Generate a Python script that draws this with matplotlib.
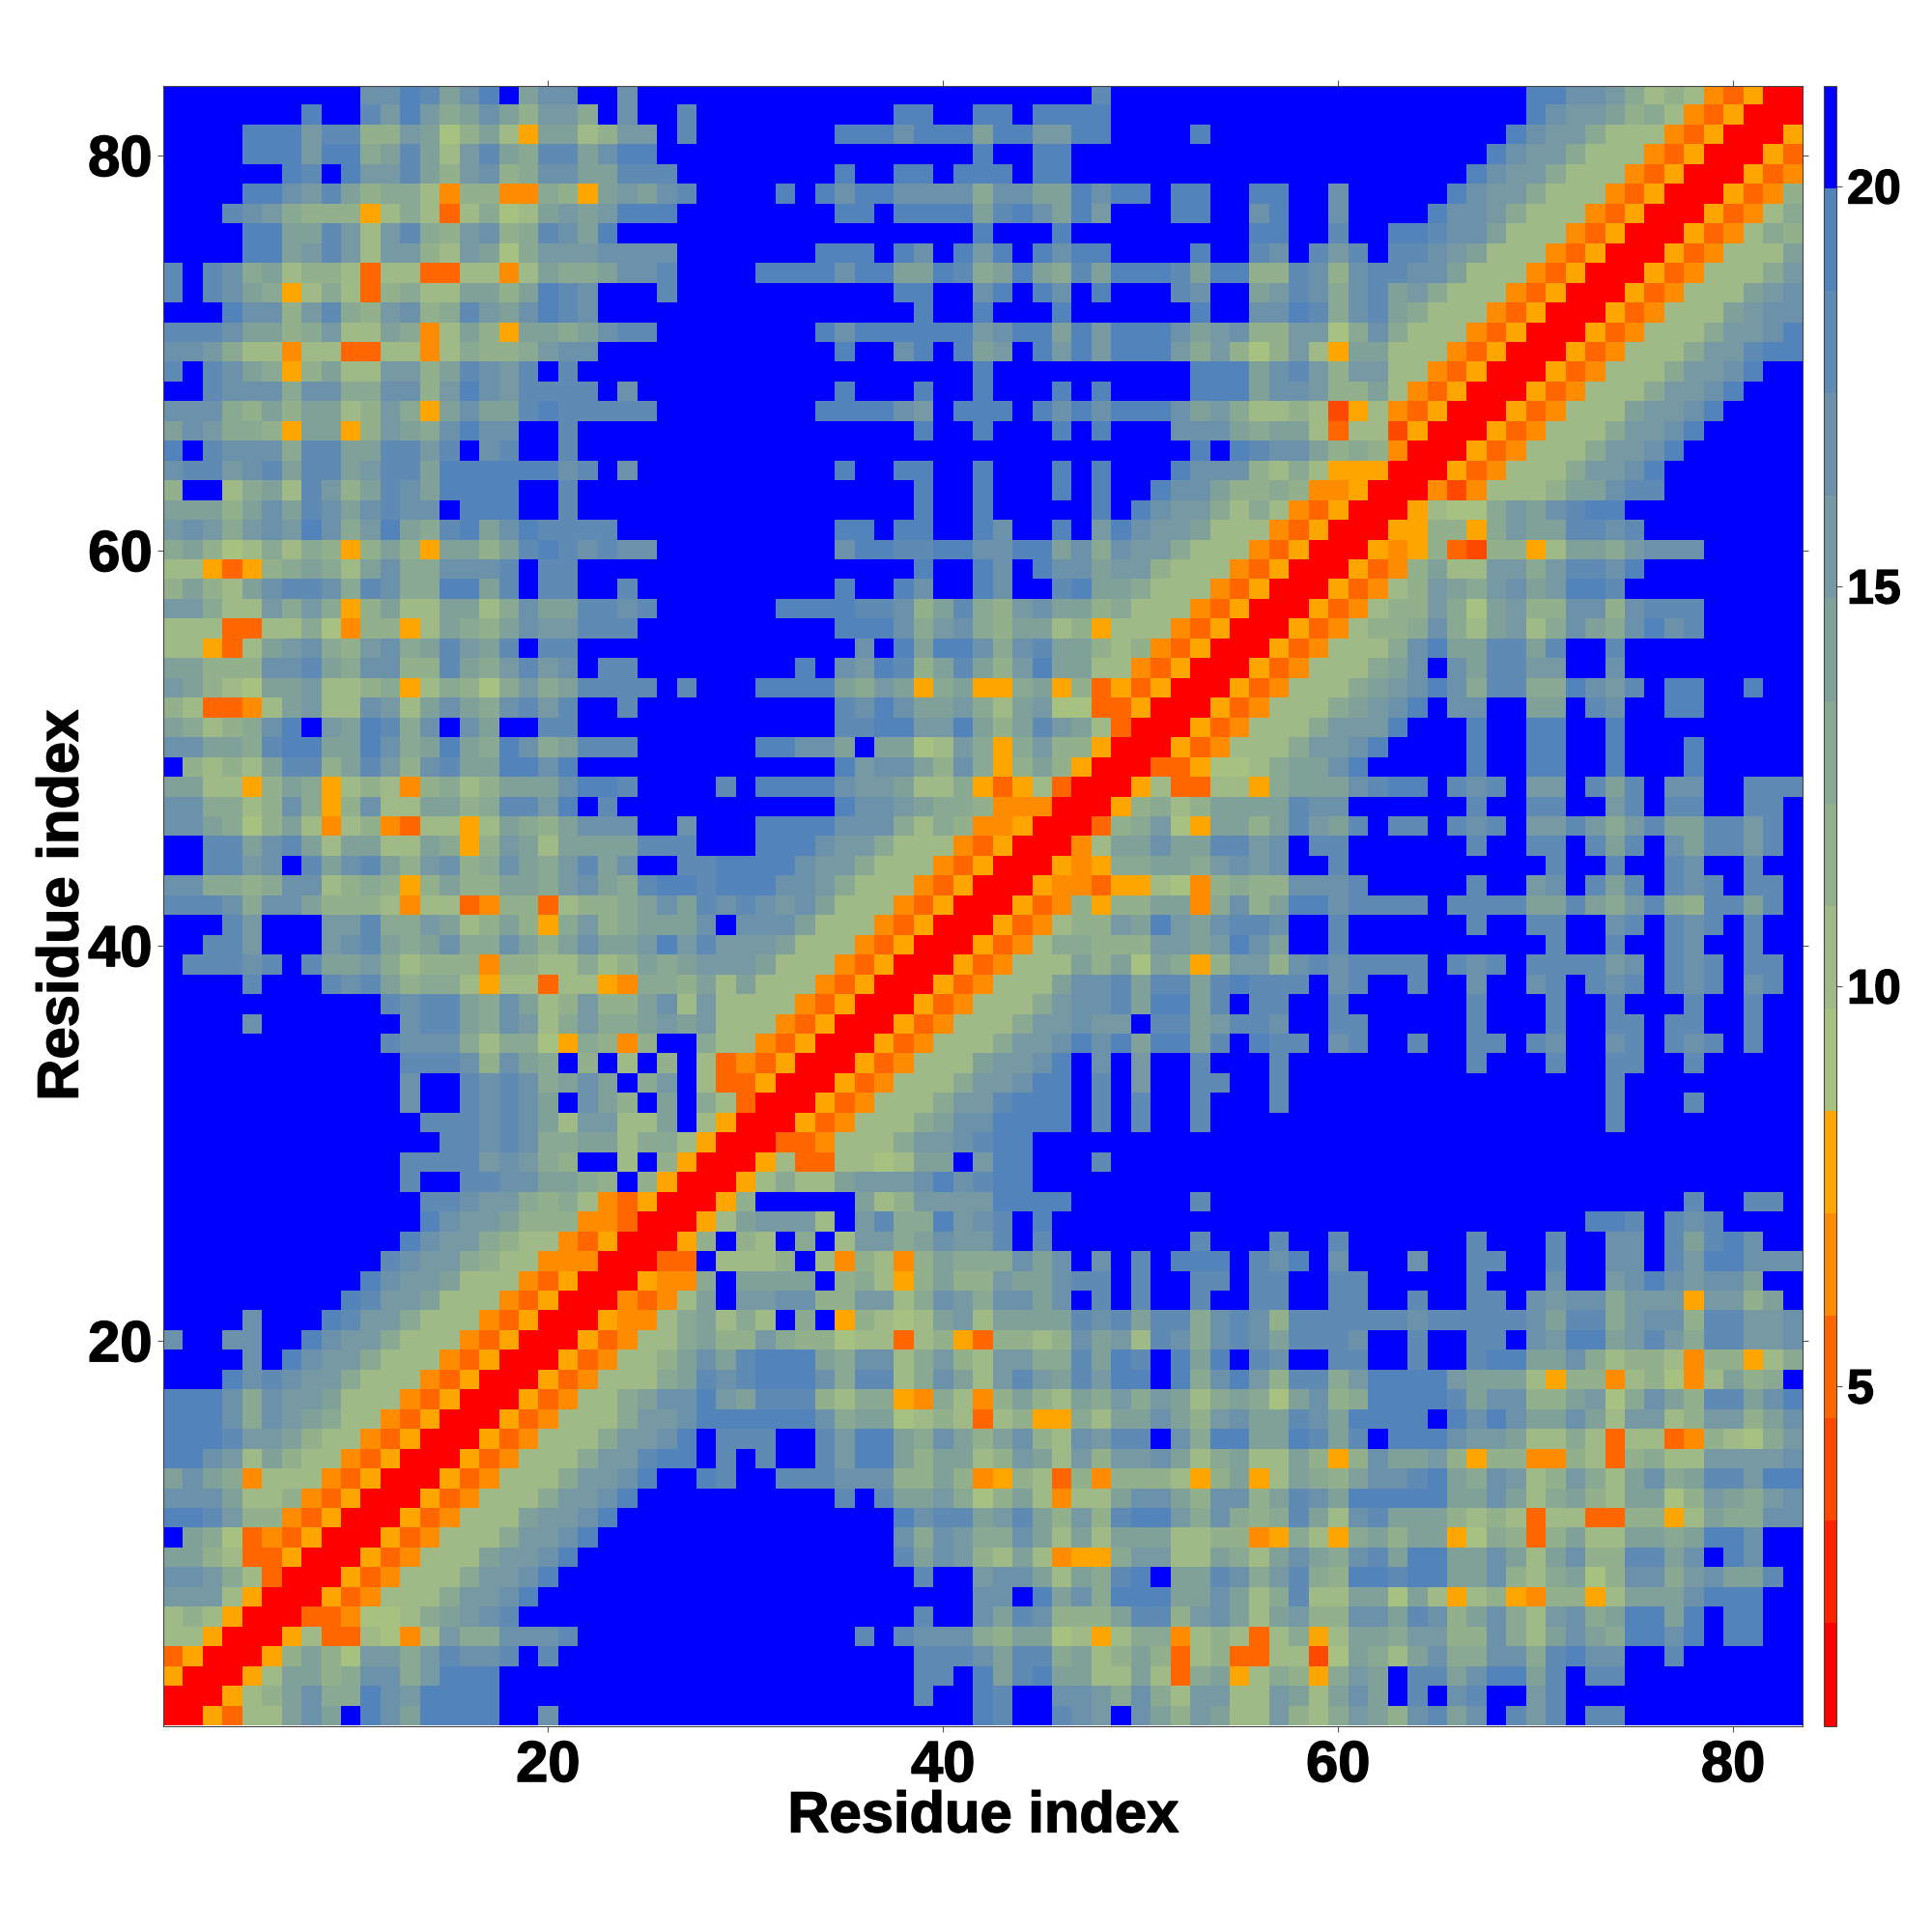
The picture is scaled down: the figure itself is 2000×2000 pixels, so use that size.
import numpy as np
import matplotlib
matplotlib.use('Agg')
import matplotlib.pyplot as plt
import matplotlib.patheffects as pe
from matplotlib.colors import ListedColormap, BoundaryNorm

# residue pair distance bins, one char per cell (hex bin number)
# rows run from residue 83 at the top down to residue 1
cols_1_28 = [
    "ffffffffff ccedacefac cffcffff",
    "fffffffeff dbeb9aca8b b9fcffdf",
    "ffffeeebdd 88ba68a75a a78bbfdf",
    "ffffeeebee 9ada7bda9d daceefff",
    "ffffffedfe bbda8bc89c caadddff",
    "ffffeecbda 8997488449 85abacdf",
    "fffdcb9888 579737967a babeeeff",
    "ffffeeaadb 7bd98bc89d caefffff",
    "ffffeeabdb 7bb87ba69b bbccccff",
    "dfdc9a7887 377337747a 99accdff",
    "dfdca95797 38977aa8ae dcfffdff",
    "fffecc8bd9 8bc89dbace dcffffff",
    "dddcaa89b7 7a947a85aa 9acddfff",
    "ccb9774773 377479889b ccffffff",
    "dfdca958a7 7bb8adcbdf dfffffff",
    "ffdccc9cc9 9cc8becbdd ddfcffff",
    "ccc98a8aa7 8b95acaade dddddfff",
    "acb9985aa5 8ba9ceccff dfffffff",
    "efdccc9dda addbdfcdff dfffffff",
    "cddbcdadda bddaeeeeee cdfcffff",
    "8ff79a7db8 adcaeeeeff dfffffff",
    "aaa8acadca cdccfeeeff dfffffff",
    "bcb9bcbec9 bea9deaced dddfffff",
    "9a86797985 8a85aa8ade dcdccfff",
    "7753589a97 ac99cccdfd dfffffff",
    "8a87acddc9 dc99eeadfd dffdffff",
    "bb977b9b95 8a77aa79ca addcdfff",
    "7773377964 8857a98acb bdddffff",
    "77537abc98 bc9adbadfd dfffffff",
    "aa888ccda9 cc88da9bdb cfddffff",
    "ba876aab77 89579869b9 addddfdf",
    "873347ab77 cb7aca9cdb dffdffff",
    "a9789cefba ed9cfcaffd dfffffff",
    "ccaa9deeaa ec9aea9ec9 adddffff",
    "f8787add8a db8cdaaeec efffffff",
    "aa7758a957 8748978aaa ceedffff",
    "cc9978c958 c77aa89ddb efdfffff",
    "cca968a747 8437757a98 acccffcf",
    "ffddacda7a a77a958ba7 aaaadddf",
    "ffddbcfdac da8bc89ca9 bdacffdd",
    "cc9989cc78 9858a88aa9 bca9deed",
    "dddc9cca88 8747734883 7889acad",
    "fffdbfffbb d99ba78a85 9b89aaac",
    "ffddbfffbc da9ac99ca8 acaabebd",
    "fdddcdfdaa b978884887 7978a9ab",
    "ffffdfffdc da89975773 7754998a",
    "ffffffffff fdcdda9ca7 8b88ac7b",
    "ffffcfffff ffcdda9cb7 9b99abab",
    "ffffffffff fdccc97996 59848ff9",
    "ffffffffff ffdddc8ca9 f8f7f8f7",
    "ffffffffff ffcffdcdc9 acaf9bf7",
    "ffffffffff ffcffdcdca fca8faf9",
    "ffffffffff fffdddcdca 7bb77af7",
    "ffffffffff ffffddcdc9 9aa79975",
    "ffffffffff ffddddbcb9 8ff7f850",
    "ffffffffff ffdffddcca a98f8500",
    "ffffffffff fffddcbb98 97435000",
    "ffffffffff fffecbba88 84430005",
    "ffffffffff ffecbb9877 43500058",
    "ffffffffff fdcbb98774 4400033f",
    "ffffffffff ecbba77743 50005449",
    "fffffffffe dbba777435 0004347a",
    "ffffcfffed bb97774350 0054479a",
    "cffccffecb b977743500 0534779a",
    "ffffcfecbb 9777435000 534778ac",
    "fffecdcbb9 7774350005 347779ad",
    "eeec9cbba7 7743500053 4779acce",
    "eeec9cba97 7435000534 7779bbce",
    "eeedbba877 4350005347 779bbcef",
    "eecb7a8774 3500053477 79bbdeef",
    "aca9477743 5000534777 9bbceffe",
    "ccca778435 0005347779 bbceffff",
    "eedb884350 00534777ab bcefffff",
    "fa96343500 05347779bb ceffffff",
    "aa87335000 534777abbc efffffff",
    "ccb9730005 347779bbce ffffffff",
    "bbb7500053 47779bbcef ffffffff",
    "7875000334 6679abcdff ffffffff",
    "7750005733 7647b99ccc dfffffff",
    "3500058a86 bb9bdccdfd ffffffff",
    "500057aa89 cc9beeefff ffffffff",
    "000578ac99 ecbeeeefff ffffffff",
    "005377acaf ecaeeeeffc ffffffff",
]

cols_29_56 = [
    "ffffffffff fffffffffd ffffffff",
    "fffffffffe effeefeeee ffffffff",
    "ffffffeeec eeeaeebbee ffffefff",
    "ffffffffff fffeffeeff ffffffff",
    "ffffffeffe efeeefeeff ffffffff",
    "fffefeceec ccc9ccaaec eefeeffe",
    "ffffffeefe eeeadecaeb fffeeffc",
    "ffffffffff fffefffeff fffffffe",
    "fffffeeefe cfebefecee ffffeffd",
    "ffeeeeceea aed9aea9da eeedaee8",
    "fffffffffe effcefecfe fffdcffa",
    "ffffffffff effefffeff ffffeffc",
    "fffffeceee eeebceeaeb eeecabc8",
    "ffffffeffc efeabfebeb eeeb9b86",
    "ffffffffff fffeffffff ffffeeea",
    "ffffffefff effefffefe ffffeeea",
    "fffffeeeec bfeeefecec eeecab97",
    "ffffffffff effefffefe fffccca9",
    "ffffffffff ffffffffff ffffefed",
    "ffffffeffe effefffefe fffeccc8",
    "ffffffffff effefffefe ffecca88",
    "ffffffffff effefffffe fecbb979",
    "ffffffeefe effecffefb ecbba777",
    "ffffffceed deecceeac9 cbb97774",
    "ffffffffff effecfecca bb877743",
    "ffffffeffe cffecffdea a9777435",
    "fffeeeeddc 8ad98bcaa8 97774350",
    "ffffffeeec 9bc98aa785 77743500",
    "fffffffcfe aeec9cdaa8 78435000",
    "ffffefcbed 8ada8beaa7 74350005",
    "ffeeeea9ba 59a559a583 53500053",
    "ffffffdcec aab97ab663 35000534",
    "ffffffddee bbea8adba7 30005347",
    "ffeeccafaa 67b959b885 00053477",
    "ffffffebcc a8c958a850 00335667",
    "dfeeeecbba 7795357300 05733775",
    "ffffffeccb a998444000 58978aaa",
    "ffeeeeccc9 7984450003 89b65aa8",
    "ffeeecbb97 7743500047 aacaaddb",
    "eeeecbb977 7435000545 99aa9bcb",
    "eeeccb9777 4350005443 55764898",
    "cdcbca7774 3500053485 88aa49c8",
    "fccca77743 5000534788 baebacdd",
    "bbba777435 0005347998 88bbabec",
    "bba7774350 00534777a8 a6a958bb",
    "7a77743500 0534777acc daddaded",
    "7777435000 5347779bcc daeeadfd",
    "7774350005 347779bbcb bfddabdd",
    "7743500053 47779bbcec eaeeadfe",
    "3435000534 777abbcefc fbffdfff",
    "3350005347 779bbceefd fbffddff",
    "7300053477 79bbdeeefd fdffdfff",
    "5000534777 9acceeeefd fdffdfff",
    "0003347779 bbcdeeffff ffffffff",
    "0057337767 aafbeefffd ffffffff",
    "057977abbb cecdeeffff ffffffff",
    "58fffffa78 bbbbeeeeff ffffdfff",
    "7abbb7fbd9 9ebcdfefff ffffffff",
    "f87f9f7bb9 acbbdfdfff ffffdfff",
    "7778f74874 8a999cacfc fdfeeefd",
    "faaaaf8975 8a88baacdd fdffddfd",
    "fbbcc88bb7 9cb9ccacfd fdffdffd",
    "797f9f5876 7ab7aaaadc dadd9cdc",
    "88b9886773 78538878ca b7dc9cdc",
    "adeeea9cc7 9b87bb99da edfeaefd",
    "cdeeec9dd7 9ca7bdbadb eefe9ceb",
    "baddd87995 49748a87a9 b9ba79a9",
    "eeeeec9aa6 7873785597 aaca8bca",
    "dddffdbeea 9ca8ac87cb ddfc9eea",
    "dfdffdbeea 8aa78ba7b8 bbca79a7",
    "dffdddccc8 8a84587384 888758a5",
    "ffffffdfda ab968a7477 acca8cc8",
    "fffffffffe cddabda8b8 deeb9c98",
    "fffffffffc 9cb99ca7a7 aaa77884",
    "fffffffffd acb87a7455 9bb77a97",
    "ffffffffff dffbcca7a9 defaadc9",
    "ffffffffff fffccfeac9 eeeaaca7",
    "ffffffffff dffcadc888 add8bca7",
    "fffffffdfd ccc98aa675 79947873",
    "ffffffffff dddcadd9a7 8a837833",
    "ffffffffff ddfeadeaa7 7a739a57",
    "ffffffffff dffedffccb 9c97bb77",
    "ffffffffff fffedffdcb fca8ba77",
]

cols_57_83 = [
    "ffffffffff fffeeccb97 8743500",
    "ffffffffff fffecbba89 7435000",
    "ffffffffff ffecbb9777 4350005",
    "ffffffffff fecbb97774 3500053",
    "ffffffffff ecbb977743 5000534",
    "effcfffffe cbb9777435 0005348",
    "effcffffec cb97774350 0053479",
    "effdffeedc ca77743500 0534798",
    "cfdbdfddcb a777435000 534777a",
    "8dc8cddcca 7774350005 347779b",
    "bdc9cdab97 7743500053 4777abc",
    "ced9cda977 7435000534 777abcc",
    "8bb69c9777 4350005347 779bbce",
    "8b75aa7774 3500053477 79bbdee",
    "cdb8bb7743 5000534777 9bbceff",
    "ccb88a7435 0005347779 bbcefff",
    "7872574350 00534777ab bceffff",
    "aa73772500 05347779bb cefffff",
    "cca8984000 5347779bbc effffff",
    "7975550005 347779bbce fffffff",
    "9844500042 47778aacdd fffffff",
    "7435000576 69bacdeeff fffffff",
    "4350005588 59baaddcdf fffffff",
    "3500054583 28857aa9bc ccfffff",
    "50005348a7 7bb9bddcef fffffff",
    "00053478ba 9bcabeedff fffffff",
    "00534788b9 6ab88cc8cd ddfffff",
    "05347889c9 7ab79ca9ce cdfffff",
    "5347779cea addadffdff fffffff",
    "347779acfc addbbffcff fffffff",
    "47779abcec 9dd99ecbdf eeffeff",
    "7779abcefc cffaafdcff eefffff",
    "779bbbefff effeeffeff fffffff",
    "79bbceffff effeeffeff fefffff",
    "9aacefffff effeeffeff fefffff",
    "9aaacdeefd cdfbbfdadf ccffddd",
    "adccffffff dffddffbdf ddffddf",
    "adbadfddfd cdfbbdb9bd aaddbdf",
    "cfddffffff dffddfdadf caddbdf",
    "cffdffffff ffffdffdff dcffdff",
    "8cccdfffff dffbcfdadf dcdfddf",
    "aeecddddfd dddaada9bd 98ddadf",
    "cffdffffff dffddffcdf dcdfdff",
    "affdffffff ffffdffdff dcffdff",
    "8cdcddddfd cdfddddbcf dcdfddf",
    "ddfcdffdff cffcdfdcdf dcdfcdf",
    "dffdffffff dfffdffdff fdffdff",
    "cffddfffff dfffdffddf ddffdff",
    "ddfcdffdff ddfdcffcdf dcdfdff",
    "dfffffffff dfffdffddf fdfffff",
    "dfffffffff fffffffdff fffffff",
    "dfffffffff fffffffdff fdfffff",
    "ffffffffff fffffffdff fffffff",
    "ffffffffff ffffffffff fffffff",
    "ffffffffff ffffffffff fffffff",
    "ffffffffff ffffffffff fffffff",
    "ffffffffff ffffffffff fdffddf",
    "ffffffffff ffffffeedf dcdffff",
    "dffdffffff dfffdffccf dadecff",
    "cefcfffcff ddffdffccf dbeeccc",
    "dffddfffff dfffcffbce cbccaff",
    "dffddffdff ddfcbcc9bb b5bb8af",
    "8ddddddcdd dddcadd9bc c8ddbbc",
    "adddcffdff ddfcbeeabd b9ddbbc",
    "cffddffdff deeaac9788 7488579",
    "8dd9beeeeb aaa7588478 647a89f",
    "6ac89eeeed acc88ab69c a8ddace",
    "adcaeeeefe cecaaca7bb 78bb8ac",
    "aedadfeeec bba7797377 348769b",
    "7a858caab8 5884487389 77bbbbc",
    "7a98accdea 9cb78b97ac 9addbee",
    "adcaeeeeea aca79a87aa 68ba9bc",
    "9da7cdaaa8 7873773388 57a99cc",
    "59759a8aa5 69838a77aa 9aeecff",
    "aca9cdaeea aca7ac88dd acfecff",
    "bd98eedeea ac879a68cc 9bcaadf",
    "9d77aa6a75 78548857aa aceeeff",
    "ab88ccadc8 ac97bc9aee aefeeff",
    "7957aa9bb8 8c97aca9ee cefeeff",
    "7726a97ac9 9cc9deccff dffffff",
    "9859bafdda ceeadfddff fffffff",
    "ba7acafdfc dffbdfffff fffffff",
    "b879ba8cda cfdbdfddff fffffff",
]

# colour of each bin, bottom of the colour bar first
bin_colors = ['#ff0000', '#ff2200', '#ff4800', '#ff6600', '#ff8c00', '#ffa500',
              '#a7c181', '#9fba87', '#93b08c', '#89a992', '#7fa199', '#7699a3',
              '#6c92ab', '#5f8ab4', '#5383bb', '#0000ff']
dist_min = 0.75
dist_max = 21.25
tick_values = [20, 40, 60, 80]
bar_ticks = [5, 10, 15, 20]
axis_label = 'Residue index'


def parse(block, n):
    out = []
    for s in block:
        s = s.replace(' ', '')
        s = (s + 'f' * n)[:n]
        out.append([int(c, 16) for c in s])
    return np.array(out)


bins = np.hstack([parse(cols_1_28, 28), parse(cols_29_56, 28), parse(cols_57_83, 27)])[::-1]

edges = np.linspace(dist_min, dist_max, len(bin_colors) + 1)
centers = 0.5 * (edges[:-1] + edges[1:])
dist = centers[bins]

plt.rcParams['font.family'] = ['Liberation Sans', 'DejaVu Sans']
plt.rcParams['font.weight'] = 'bold'

fig = plt.figure(figsize=(20, 20), dpi=100)
ax = fig.add_axes([168.7 / 2000, 213.5 / 2000, 1697.0 / 2000, 1697.5 / 2000])
cmap = ListedColormap(bin_colors)
norm = BoundaryNorm(edges, cmap.N)
im = ax.imshow(dist, origin='lower', cmap=cmap, norm=norm, interpolation='nearest',
               extent=(0.5, bins.shape[1] + 0.5, 0.5, bins.shape[0] + 0.5), aspect='auto')

# reference type is a little heavier than Liberation bold
heavy = [pe.withStroke(linewidth=1.0, foreground='black')]

ax.set_xticks(tick_values)
ax.set_yticks(tick_values)
ax.tick_params(axis='x', which='major', labelsize=43, length=4.5, width=0.8,
               color='#555555', top=True, pad=6)
ax.tick_params(axis='y', which='major', labelsize=43, length=4.5, width=0.8,
               color='#555555', right=True, pad=3.5)
for lab in ax.get_xticklabels() + ax.get_yticklabels():
    lab.set_path_effects(heavy)
for sp in ax.spines.values():
    sp.set_linewidth(0.8)
    sp.set_color('#444444')

# colour bar
cax = fig.add_axes([1888.0 / 2000, 213.5 / 2000, 13.0 / 2000, 1697.5 / 2000])
cb = fig.colorbar(im, cax=cax, ticks=bar_ticks, spacing='proportional')
cb.ax.tick_params(labelsize=36, length=4, width=0.8, color='#555555', pad=4)
cb.ax.minorticks_off()
cb.outline.set_linewidth(0.8)
cb.outline.set_edgecolor('#444444')
cb.dividers.set_visible(False)
for lab in cb.ax.get_yticklabels():
    lab.set_path_effects(heavy)

xlab = fig.text(1018 / 2000, 1 - 1881 / 2000, axis_label, fontsize=43, fontweight='bold',
                ha='center', va='center')
ylab = fig.text(65 / 2000, 1 - 937 / 2000, axis_label, fontsize=43, fontweight='bold',
                ha='center', va='center', rotation=90)
xlab.set_path_effects(heavy)
ylab.set_path_effects(heavy)

fig.savefig('out.png', dpi=100)
